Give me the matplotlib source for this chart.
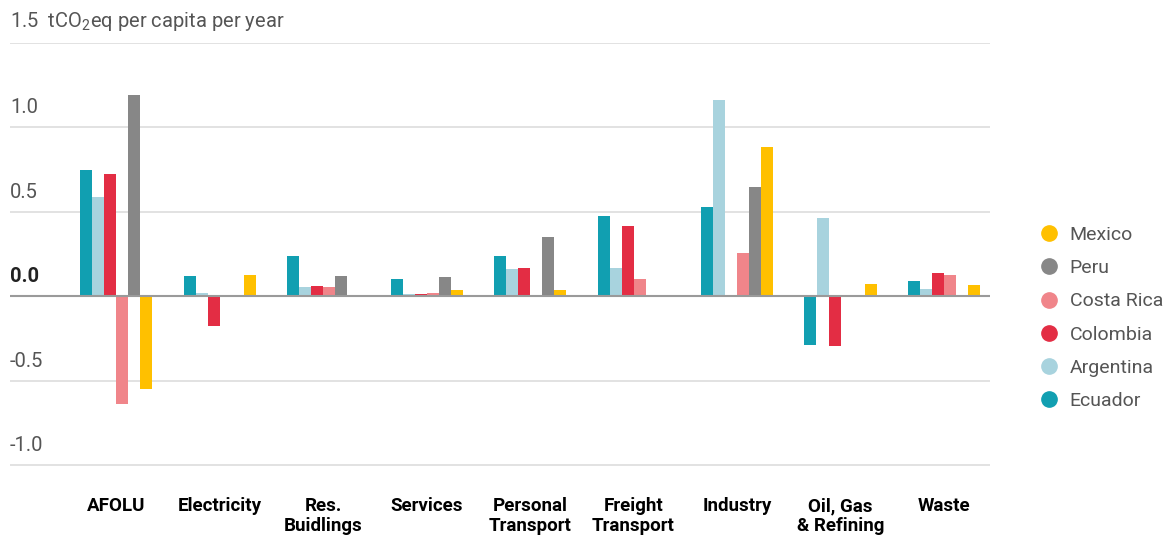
# Libs
import numpy as np
import matplotlib.pyplot as plt
from matplotlib.lines import Line2D

# Sector labels (as printed on the chart)
sectors = ['AFOLU', 'Electricity', 'Res.\nBuidlings', 'Services',
           'Personal\nTransport', 'Freight\nTransport', 'Industry',
           'Oil, Gas\n& Refining', 'Waste']

# tCO2eq per capita per year
ecuador = [0.745, 0.118, 0.237, 0.105, 0.237, 0.473, 0.528, -0.290, 0.093]
argentina = [0.588, 0.020, 0.053, 0.012, 0.160, 0.170, 1.164, 0.466, 0.045]
colombia = [0.724, -0.178, 0.061, 0.012, 0.170, 0.416, 0.010, -0.296, 0.140]
costa_rica = [-0.640, 0.0, 0.053, 0.018, 0.0, 0.100, 0.256, 0.0, 0.128]
peru = [1.190, 0.0, 0.118, 0.114, 0.351, 0.0, 0.647, 0.0, 0.0]
mexico = [-0.550, 0.126, 0.010, 0.036, 0.036, 0.0, 0.884, 0.073, 0.065]

countries = ['Ecuador', 'Argentina', 'Colombia', 'Costa Rica', 'Peru', 'Mexico']
series = [ecuador, argentina, colombia, costa_rica, peru, mexico]
colors = ['#119fb1', '#a8d3de', '#e32d44', '#f0858a', '#878787', '#ffc000']

yticks = [-1.0, -0.5, 0.0, 0.5, 1.0, 1.5]

plt.rcParams['font.family'] = ['Roboto', 'DejaVu Sans']
plt.rcParams['mathtext.fontset'] = 'custom'
plt.rcParams['mathtext.rm'] = 'Roboto'

fig = plt.figure(figsize=(11.71, 5.37), dpi=100)
ax = fig.add_axes([10 / 1171, 1 - 473.5 / 537, 980 / 1171, (473.5 - 43) / 537])

x = np.arange(len(sectors))
w = 12 / 103.5
for i, (vals, c) in enumerate(zip(series, colors)):
    ax.bar(x + (i - 2.5) * w, vals, width=w, color=c, zorder=3)

ax.set_xlim((10 - 116) / 103.5, (990 - 116) / 103.5)
ax.set_ylim(-1.05, 1.5)

# gridlines and tick labels sitting above them
for t in yticks:
    if t == 0:
        ax.axhline(0, color='#9a9a9a', lw=1.5, zorder=4)
    else:
        ax.axhline(t, color='#dddddd', lw=1.2, zorder=1)
    lab = '{:.1f}'.format(t)
    if t == 1.5:
        lab = '1.5  tCO$\\mathregular{_2}$eq per capita per year'
    ax.text(0, t + 0.06, lab, transform=ax.get_yaxis_transform(),
            ha='left', va='bottom', fontsize=14.5,
            color='#222222' if t == 0 else '#555555',
            fontweight='bold' if t == 0 else 'normal')

ax.set_yticks([])
ax.set_xticks(x)
ax.set_xticklabels(sectors, fontsize=13.5, fontweight='bold', linespacing=1.1)
ax.tick_params(axis='x', length=0, pad=17)
for s in ax.spines.values():
    s.set_visible(False)

handles = [Line2D([], [], marker='o', ls='', color=c, markersize=11)
           for c in colors[::-1]]
fig.legend(handles, countries[::-1], loc='center left',
           bbox_to_anchor=(1022 / 1171, 1 - 318 / 537), frameon=False,
           fontsize=14, labelcolor='#555555', handletextpad=0.05,
           labelspacing=0.78, borderaxespad=0)

plt.savefig('out.png', dpi=100)
